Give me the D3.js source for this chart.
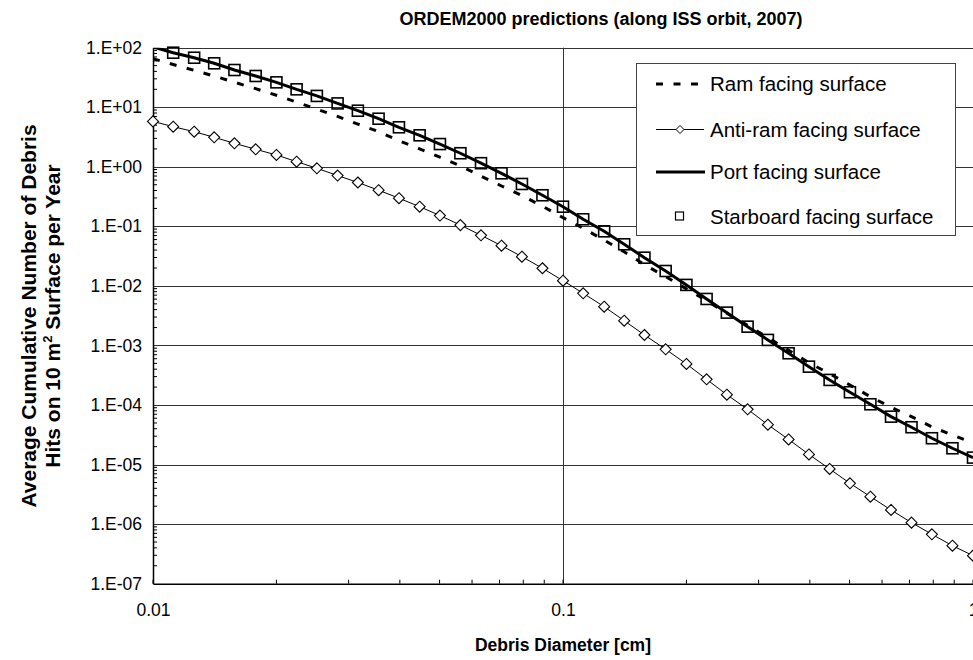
<!DOCTYPE html>
<html><head><meta charset="utf-8">
<script src="https://cdn.jsdelivr.net/npm/d3@7"></script>
<style>body{margin:0;background:#fff}svg{display:block}text{font-family:"Liberation Sans",Arial,sans-serif}</style>
</head><body><svg id="c" width="973" height="660"></svg>
<script>
const diameters = [0.01,0.0112,0.0126,0.0141,0.0158,0.0178,0.02,0.0224,0.0251,0.0282,0.0316,0.0355,0.0398,0.0447,0.0501,0.0562,0.0631,0.0708,0.0794,0.0891,0.1,0.112,0.126,0.141,0.158,0.178,0.2,0.224,0.251,0.282,0.316,0.355,0.398,0.447,0.501,0.562,0.631,0.708,0.794,0.891,1];
const ramValues = [65.4,52.2,41.6,33.4,26.3,20.5,15.9,12.2,9.27,7.03,5.21,3.90,2.75,2.00,1.45,1.04,0.695,0.476,0.330,0.218,0.140,0.0929,0.0586,0.0374,0.0227,0.0143,0.00891,0.00565,0.00348,0.00217,0.00136,8.30e-4,5.14e-4,3.35e-4,2.17e-4,1.38e-4,9.2e-5,6.38e-5,4.30e-5,3.13e-5,2.32e-5];
const antiRamValues = [5.79,4.72,3.89,3.13,2.48,1.97,1.58,1.22,0.944,0.714,0.545,0.405,0.297,0.214,0.152,0.105,0.0708,0.0474,0.0310,0.0198,0.01225,0.00752,0.00448,0.00261,0.00150,8.63e-4,4.89e-4,2.70e-4,1.49e-4,8.49e-5,4.68e-5,2.64e-5,1.48e-5,8.44e-6,4.85e-6,2.89e-6,1.73e-6,1.06e-6,6.76e-7,4.34e-7,2.96e-7];
const portValues = [103,82.4,67.9,54.7,42.2,33.5,26.2,20.0,15.5,11.6,8.75,6.42,4.61,3.38,2.41,1.69,1.15,0.778,0.515,0.333,0.214,0.1315,0.0826,0.050,0.0298,0.0178,0.0104,0.00604,0.00356,0.00207,0.00124,7.40e-4,4.41e-4,2.64e-4,1.64e-4,1.03e-4,6.38e-5,4.24e-5,2.77e-5,1.88e-5,1.31e-5];
const starboardValues = [103,82.4,67.9,54.7,42.2,33.5,26.2,20.0,15.5,11.6,8.75,6.42,4.61,3.38,2.41,1.69,1.15,0.778,0.515,0.333,0.214,0.1315,0.0826,0.050,0.0298,0.0178,0.0104,0.00604,0.00356,0.00207,0.00124,7.40e-4,4.41e-4,2.64e-4,1.64e-4,1.03e-4,6.38e-5,4.24e-5,2.77e-5,1.88e-5,1.31e-5];
const yTickValues = [1e2,1e1,1e0,1e-1,1e-2,1e-3,1e-4,1e-5,1e-6,1e-7];
const yTickLabels = ["1.E+02","1.E+01","1.E+00","1.E-01","1.E-02","1.E-03","1.E-04","1.E-05","1.E-06","1.E-07"];
const xTickValues = [0.01,0.1,1];
const xTickLabels = ["0.01","0.1","1"];
const seriesNames = ["Ram facing surface","Anti-ram facing surface","Port facing surface","Starboard facing surface"];
const chartTitle = "ORDEM2000 predictions (along ISS orbit, 2007)";
const xTitle = "Debris Diameter [cm]";

const svg = d3.select("#c");
const L = 153, R = 973, T = 47.7, B = 583.7;
const x = d3.scaleLog().domain([0.01,1]).range([L,R]);
const y = d3.scaleLog().domain([1e-7,1e2]).range([B,T]);

svg.append("defs").append("clipPath").attr("id","clip").append("rect")
  .attr("x",L).attr("y",T).attr("width",R-L).attr("height",B-T);

const grid = svg.append("g");
grid.selectAll("line.h").data(yTickValues.filter(v=>v>1e-7)).join("line")
  .attr("x1",L).attr("x2",R).attr("y1",d=>Math.round(y(d))+0.5).attr("y2",d=>Math.round(y(d))+0.5)
  .attr("stroke","#333").attr("stroke-width",1);
grid.append("line").attr("x1",Math.round(x(0.1))+0.5).attr("x2",Math.round(x(0.1))+0.5)
  .attr("y1",T).attr("y2",B).attr("stroke","#333").attr("stroke-width",1);

const yAxis = d3.axisLeft(y).tickValues(yTickValues).tickSize(0).tickFormat((d,i)=>yTickLabels[i]).tickPadding(11);
const gy = svg.append("g").attr("transform",`translate(${L},0)`).call(yAxis);
gy.select(".domain").attr("stroke","#000").attr("stroke-width",1.5);
gy.selectAll("text").attr("font-size",17.5).attr("fill","#000");
const yMinor = [];
for (let e=-7;e<2;e++) for (let m=2;m<=9;m++) yMinor.push(m*Math.pow(10,e));
svg.append("g").selectAll("line").data(yMinor).join("line")
  .attr("x1",L).attr("x2",L+4).attr("y1",d=>y(d)).attr("y2",d=>y(d)).attr("stroke","#000").attr("stroke-width",1);

const xAxis = d3.axisBottom(x).tickValues(xTickValues).tickSize(0).tickFormat((d,i)=>xTickLabels[i]).tickPadding(20);
const gx = svg.append("g").attr("transform",`translate(0,${B})`).call(xAxis);
gx.select(".domain").attr("stroke","#000").attr("stroke-width",1.5);
gx.selectAll("text").attr("font-size",17.5).attr("fill","#000");
const xMinor = [];
for (let e=-2;e<0;e++) for (let m=1;m<=9;m++) xMinor.push(m*Math.pow(10,e));
xMinor.push(1);
svg.append("g").selectAll("line").data(xMinor).join("line")
  .attr("x1",d=>x(d)).attr("x2",d=>x(d)).attr("y1",B).attr("y2",B-4).attr("stroke","#000").attr("stroke-width",1);

const plot = svg.append("g").attr("clip-path","url(#clip)");
const line = vals => d3.line().x((d,i)=>x(diameters[i])).y(d=>y(d))(vals);
plot.append("path").attr("d",line(ramValues)).attr("fill","none").attr("stroke","#000")
  .attr("stroke-width",3).attr("stroke-dasharray","7,10.5");
plot.append("path").attr("d",line(antiRamValues)).attr("fill","none").attr("stroke","#000").attr("stroke-width",1);
const diamond = s => `M0,${-s}L${s},0L0,${s}L${-s},0Z`;
svg.append("g").selectAll("path").data(antiRamValues.map((v,i)=>[diameters[i],v]).filter(d=>d[1]<=1e2&&d[1]>=1e-7)).join("path")
  .attr("d",diamond(5.5)).attr("transform",d=>`translate(${x(d[0])},${y(d[1])})`)
  .attr("fill","#fff").attr("stroke","#000").attr("stroke-width",1.1);
plot.append("path").attr("d",line(portValues)).attr("fill","none").attr("stroke","#000").attr("stroke-width",3);
svg.append("g").selectAll("rect").data(starboardValues.map((v,i)=>[diameters[i],v]).filter(d=>d[1]<=1e2&&d[1]>=1e-7)).join("rect")
  .attr("x",d=>x(d[0])-5.5).attr("y",d=>y(d[1])-5.5).attr("width",11).attr("height",11)
  .attr("fill","none").attr("stroke","#000").attr("stroke-width",1.6);

const lg = svg.append("g");
lg.append("rect").attr("x",636.5).attr("y",63.5).attr("width",319).attr("height",172)
  .attr("fill","#fff").attr("stroke","#444").attr("stroke-width",1);
const ly = [84,129.5,172,216.5];
lg.append("line").attr("x1",656).attr("x2",699).attr("y1",ly[0]).attr("y2",ly[0]).attr("stroke","#000").attr("stroke-width",3).attr("stroke-dasharray","7,10.5");
lg.append("line").attr("x1",656).attr("x2",704).attr("y1",ly[1]).attr("y2",ly[1]).attr("stroke","#000").attr("stroke-width",1);
lg.append("path").attr("d",diamond(4)).attr("transform",`translate(680,${ly[1]})`).attr("fill","#fff").attr("stroke","#000");
lg.append("line").attr("x1",656).attr("x2",705).attr("y1",ly[2]).attr("y2",ly[2]).attr("stroke","#000").attr("stroke-width",3);
lg.append("rect").attr("x",675.5).attr("y",ly[3]-4.5).attr("width",8).attr("height",8).attr("fill","none").attr("stroke","#000").attr("stroke-width",1.2);
lg.selectAll("text").data(seriesNames).join("text").attr("x",710).attr("y",(d,i)=>ly[i]).attr("dy","0.36em")
  .attr("font-size",20.5).text(d=>d);

svg.append("text").attr("x",601).attr("y",25).attr("text-anchor","middle").attr("font-weight","bold").attr("font-size",18).text(chartTitle);
svg.append("text").attr("x",563).attr("y",651).attr("text-anchor","middle").attr("font-weight","bold").attr("font-size",17.5).text(xTitle);
const yt = svg.append("g").attr("transform","translate(0,316) rotate(-90)");
yt.append("text").attr("x",0).attr("y",36).attr("text-anchor","middle").attr("font-weight","bold").attr("font-size",21).text("Average Cumulative Number of Debris");
const t2 = yt.append("text").attr("x",0).attr("y",60).attr("text-anchor","middle").attr("font-weight","bold").attr("font-size",21);
t2.append("tspan").text("Hits on 10 m");
t2.append("tspan").attr("dy",-8).attr("font-size",13).text("2");
t2.append("tspan").attr("dy",8).text(" Surface per Year");
</script></body></html>
